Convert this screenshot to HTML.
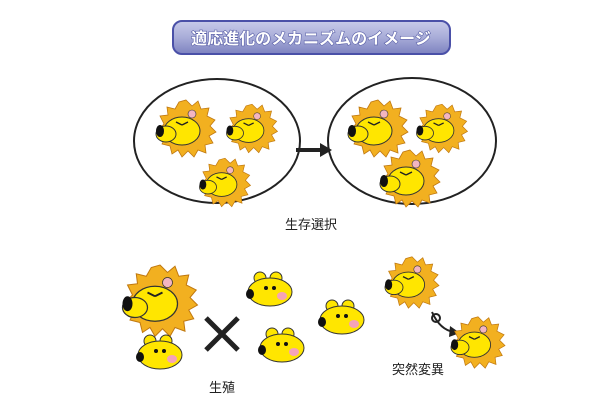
<!DOCTYPE html>
<html><head><style>
body{margin:0;width:610px;height:410px;background:#fff;overflow:hidden;font-family:"Liberation Sans","Noto Sans CJK JP",sans-serif}
</style></head><body>
<svg width="610" height="410" viewBox="0 0 610 410">
<defs>
<linearGradient id="tg" x1="0" y1="0" x2="0" y2="1">
<stop offset="0" stop-color="#c8cbea"/><stop offset="0.5" stop-color="#a8acd8"/><stop offset="1" stop-color="#7d82c0"/></linearGradient>
<g id="lion">
<polygon points="0,-28 6,-22 12,-27 15,-19 23,-20 21,-12 29,-8 24,-2 30,4 23,8 27,15 19,17 20,25 12,22 8,29 2,23 -4,29 -8,22 -14,26 -16,18 -24,16 -20,8 -28,2 -22,-4 -26,-12 -18,-13 -19,-21 -11,-19 -7,-26" fill="#f2b020" stroke="#c07810" stroke-width="0.8"/>
<ellipse cx="-4" cy="3" rx="18" ry="14" fill="#ffe600" stroke="#333" stroke-width="1"/>
<ellipse cx="-20" cy="6" rx="10" ry="8" fill="#ffe600" stroke="#333" stroke-width="1"/>
<ellipse cx="-26" cy="3" rx="4" ry="6" fill="#111"/>
<path d="M-10,-6 l6,3 M2,-6 l-6,3" stroke="#222" stroke-width="1.5"/>
<ellipse cx="6" cy="-14" rx="4" ry="4" fill="#f3b5c0" stroke="#333" stroke-width="0.6"/>
</g>
<g id="dog">
<ellipse cx="-10" cy="-14" rx="6" ry="6" fill="#ffe600" stroke="#333" stroke-width="1"/>
<ellipse cx="6" cy="-14" rx="6" ry="6" fill="#ffe600" stroke="#333" stroke-width="1"/>
<ellipse cx="0" cy="0" rx="22" ry="14" fill="#ffe600" stroke="#333" stroke-width="1"/>
<ellipse cx="-20" cy="2" rx="4" ry="5" fill="#111"/>
<circle cx="-4" cy="-4" r="2" fill="#111"/><circle cx="4" cy="-4" r="2" fill="#111"/>
<ellipse cx="12" cy="4" rx="5" ry="4" fill="#f5a3b8"/>
</g>
</defs>
<rect x="173" y="21" width="277" height="33" rx="9" fill="url(#tg)" stroke="#4a50a8" stroke-width="2"/>
<text x="311" y="44" text-anchor="middle" font-size="16" font-weight="bold" fill="#fff" stroke="#5a60a8" stroke-width="1.2" paint-order="stroke">適応進化のメカニズムのイメージ</text>
<ellipse cx="217" cy="141" rx="83" ry="62" fill="none" stroke="#222" stroke-width="2"/>
<ellipse cx="412" cy="141" rx="84" ry="63" fill="none" stroke="#222" stroke-width="2"/>
<line x1="296" y1="150" x2="322" y2="150" stroke="#222" stroke-width="4"/>
<polygon points="320,143 332,150 320,157" fill="#222"/>
<use href="#lion" transform="translate(186,128)"/>
<use href="#lion" transform="translate(252,128) scale(0.85)"/>
<use href="#lion" transform="translate(225,182) scale(0.85)"/>
<use href="#lion" transform="translate(378,128)"/>
<use href="#lion" transform="translate(442,128) scale(0.85)"/>
<use href="#lion" transform="translate(410,178)"/>
<text x="311" y="229" text-anchor="middle" font-size="13" fill="#222">生存選択</text>
<use href="#lion" transform="translate(160,300) scale(1.25)"/>
<use href="#dog" transform="translate(160,355)"/>
<use href="#dog" transform="translate(270,292)"/>
<use href="#dog" transform="translate(282,348)"/>
<use href="#dog" transform="translate(342,320)"/>
<path d="M206,318 L238,350 M238,318 L206,350" stroke="#222" stroke-width="5"/>
<use href="#lion" transform="translate(412,282) scale(0.9)"/>
<path d="M432,312 q8,18 22,20" fill="none" stroke="#222" stroke-width="2"/>
<polygon points="450,326 460,333 449,337" fill="#222"/>
<circle cx="436" cy="318" r="4" fill="none" stroke="#222" stroke-width="2"/>
<use href="#lion" transform="translate(478,342) scale(0.9)"/>
<text x="222" y="392" text-anchor="middle" font-size="13" fill="#222">生殖</text>
<text x="418" y="374" text-anchor="middle" font-size="13" fill="#222">突然変異</text>
</svg>
</body></html>
